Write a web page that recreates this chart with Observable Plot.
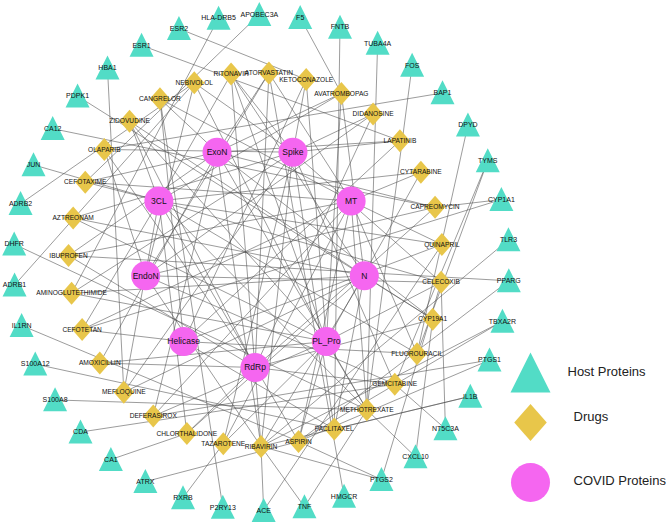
<!DOCTYPE html>
<html><head><meta charset="utf-8">
<script src="https://cdn.jsdelivr.net/npm/d3@7"></script>
<script src="https://cdn.jsdelivr.net/npm/@observablehq/plot@0.6"></script>
<style>html,body{margin:0;padding:0;background:#fff;} #chart svg{display:block;}</style>
</head><body><div id="chart"></div>
<script>
// ---- data ----
const hostProteins = ["APOBEC3A","F5","FNTB","TUBA4A","FOS","BAP1","DPYD","TYMS","CYP1A1","TLR3","PPARG","TBXA2R","PTGS1","IL1B","NT5C3A","CXCL10","PTGS2","HMGCR","TNF","ACE","P2RY13","RXRB","ATRX","CA1","CDA","S100A8","S100A12","IL1RN","ADRB1","DHFR","ADRB2","JUN","CA12","PDPK1","HBA1","ESR1","ESR2","HLA-DRB5"];
const drugs = ["RITONAVIR","ATORVASTATIN","KETOCONAZOLE","AVATROMBOPAG","DIDANOSINE","LAPATINIB","CYTARABINE","CAPREOMYCIN","QUINAPRIL","CELECOXIB","CYP19A1","FLUOROURACIL","GEMCITABINE","METHOTREXATE","PACLITAXEL","ASPIRIN","RIBAVIRIN","TAZAROTENE","CHLORTHALIDONE","DEFERASIROX","MEFLOQUINE","AMOXICILLIN","CEFOTETAN","AMINOGLUTETHIMIDE","IBUPROFEN","AZTREONAM","CEFOTAXIME","OLAPARIB","ZIDOVUDINE","CANGRELOR","NEBIVOLOL"];
const covidProteins = ["Spike","MT","N","PL_Pro","RdRp","Helicase","EndoN","3CL","ExoN"];
const hostDrugLinks = [
  ["HLA-DRB5","AMINOGLUTETHIMIDE"],["APOBEC3A","CEFOTAXIME"],["F5","AVATROMBOPAG"],["FNTB","PACLITAXEL"],
  ["TUBA4A","METHOTREXATE"],["FOS","METHOTREXATE"],["BAP1","OLAPARIB"],["DPYD","FLUOROURACIL"],
  ["TYMS","FLUOROURACIL"],["TYMS","GEMCITABINE"],["CYP1A1","CAPREOMYCIN"],["CYP1A1","CEFOTETAN"],
  ["TLR3","RIBAVIRIN"],["PPARG","ASPIRIN"],["PPARG","IBUPROFEN"],["TBXA2R","ASPIRIN"],["TBXA2R","RIBAVIRIN"],
  ["PTGS1","ASPIRIN"],["PTGS1","DEFERASIROX"],["IL1B","RIBAVIRIN"],["IL1B","PACLITAXEL"],
  ["NT5C3A","CELECOXIB"],["NT5C3A","GEMCITABINE"],["CXCL10","METHOTREXATE"],["CXCL10","CYP19A1"],
  ["PTGS2","ASPIRIN"],["PTGS2","CELECOXIB"],["PTGS2","RIBAVIRIN"],["HMGCR","ATORVASTATIN"],
  ["TNF","RIBAVIRIN"],["TNF","METHOTREXATE"],["ACE","RIBAVIRIN"],["ACE","QUINAPRIL"],
  ["P2RY13","CANGRELOR"],["RXRB","TAZAROTENE"],["ATRX","ASPIRIN"],["CA1","CHLORTHALIDONE"],
  ["CDA","GEMCITABINE"],["S100A8","METHOTREXATE"],["S100A12","PACLITAXEL"],["IL1RN","ASPIRIN"],
  ["ADRB1","NEBIVOLOL"],["DHFR","METHOTREXATE"],["ADRB2","NEBIVOLOL"],["JUN","CELECOXIB"],
  ["CA12","CAPREOMYCIN"],["PDPK1","CYP19A1"],["HBA1","MEFLOQUINE"],["ESR1","LAPATINIB"],["ESR2","KETOCONAZOLE"]
];
const drugCovidLinks = [
  ["RITONAVIR",["3CL","PL_Pro","Spike","RdRp","N"]],
  ["ATORVASTATIN",["ExoN","MT","RdRp","EndoN"]],
  ["KETOCONAZOLE",["Spike","Helicase","PL_Pro"]],
  ["AVATROMBOPAG",["ExoN","3CL","PL_Pro","N"]],
  ["DIDANOSINE",["Spike","RdRp","EndoN"]],
  ["LAPATINIB",["ExoN","Spike","Helicase"]],
  ["CYTARABINE",["3CL","MT","PL_Pro"]],
  ["CAPREOMYCIN",["ExoN","EndoN","RdRp"]],
  ["QUINAPRIL",["3CL","MT","Helicase"]],
  ["CELECOXIB",["Spike","EndoN","PL_Pro"]],
  ["CYP19A1",["ExoN","N","RdRp"]],
  ["FLUOROURACIL",["3CL","Helicase","MT"]],
  ["GEMCITABINE",["Spike","EndoN","RdRp"]],
  ["METHOTREXATE",["ExoN","3CL","MT","PL_Pro"]],
  ["PACLITAXEL",["Spike","Helicase","N"]],
  ["ASPIRIN",["3CL","MT","PL_Pro"]],
  ["RIBAVIRIN",["RdRp","ExoN","N","EndoN","Spike"]],
  ["TAZAROTENE",["Spike","PL_Pro","MT"]],
  ["CHLORTHALIDONE",["3CL","N","RdRp"]],
  ["DEFERASIROX",["ExoN","MT","PL_Pro"]],
  ["MEFLOQUINE",["Spike","3CL","N"]],
  ["AMOXICILLIN",["ExoN","PL_Pro","RdRp"]],
  ["CEFOTETAN",["3CL","MT","Helicase"]],
  ["AMINOGLUTETHIMIDE",["Spike","N","PL_Pro"]],
  ["IBUPROFEN",["ExoN","MT","RdRp"]],
  ["AZTREONAM",["Spike","N","PL_Pro"]],
  ["CEFOTAXIME",["ExoN","3CL","MT"]],
  ["OLAPARIB",["Spike","EndoN","RdRp"]],
  ["ZIDOVUDINE",["3CL","N","PL_Pro","RdRp"]],
  ["CANGRELOR",["ExoN","MT","Helicase"]],
  ["NEBIVOLOL",["Spike","EndoN","PL_Pro"]]
];
const legendLabels = ["Host Proteins","Drugs","COVID Proteins"];

// ---- layout (circular rings) ----
function ring(names, cx, cy, r, startDeg) {
  const step = 360 / names.length;
  return names.map((name, i) => {
    const t = (startDeg + i * step) * Math.PI / 180;
    return {name, x: cx + r * Math.sin(t), y: cy - r * Math.cos(t)};
  });
}
const hostNodes = ring(hostProteins, 261, 262, 248, -0.5);
const drugNodes = ring(drugs, 255, 259, 187, -7.5);
const covidNodes = ring(covidProteins, 254.5, 256, 111, 20);
const pos = new Map([...hostNodes, ...drugNodes, ...covidNodes].map(d => [d.name, d]));

const edges = [];
for (const [a, b] of hostDrugLinks) edges.push({a: pos.get(a), b: pos.get(b)});
for (const [d, targets] of drugCovidLinks) for (const t of targets) edges.push({a: pos.get(d), b: pos.get(t)});

const legend = legendLabels.map((label, i) => ({label, x: 530, y: [373, 422, 482][i], ty: [371, 416, 480][i], tx: [567, 573, 573][i]}));

// ---- custom symbols ----
const triangle = {draw(ctx, size) {
  const r = Math.sqrt(size / Math.PI);
  ctx.moveTo(0, -1.05 * r); ctx.lineTo(r, 0.95 * r); ctx.lineTo(-r, 0.95 * r); ctx.closePath();
}};
const diamond = {draw(ctx, size) {
  const r = Math.sqrt(size / Math.PI);
  ctx.moveTo(0, -r); ctx.lineTo(0.88 * r, 0); ctx.lineTo(0, r); ctx.lineTo(-0.88 * r, 0); ctx.closePath();
}};

const cHost = "#52dcc6", cDrug = "#e8c64a", cCovid = "#f566f0";

const chart = Plot.plot({
  width: 666, height: 524, margin: 0,
  style: {fontFamily: "'Liberation Sans', Arial, sans-serif", background: "#fff"},
  x: {domain: [0, 666], range: [0, 666], axis: null},
  y: {domain: [0, 524], range: [0, 524], axis: null},
  marks: [
    Plot.link(edges, {x1: d => d.a.x, y1: d => d.a.y, x2: d => d.b.x, y2: d => d.b.y, stroke: "#4a4a4a", strokeWidth: 0.65, strokeOpacity: 0.85}),
    Plot.dot(hostNodes, {x: "x", y: "y", symbol: triangle, r: 12, fill: cHost, stroke: null}),
    Plot.dot(drugNodes, {x: "x", y: "y", symbol: diamond, r: 11.5, fill: cDrug, stroke: null}),
    Plot.dot(covidNodes, {x: "x", y: "y", symbol: "circle", r: 14.5, fill: cCovid, stroke: null}),
    Plot.text(hostNodes, {x: "x", y: "y", text: "name", fontSize: 7, fill: "#111"}),
    Plot.text(drugNodes, {x: "x", y: "y", text: "name", fontSize: 6.6, fill: "#111"}),
    Plot.text(covidNodes, {x: "x", y: "y", text: "name", fontSize: 8.5, fill: "#111"}),
    Plot.dot(legend.slice(0, 1), {x: "x", y: "y", symbol: triangle, r: 20, fill: cHost}),
    Plot.dot(legend.slice(1, 2), {x: "x", y: "y", symbol: diamond, r: 18.5, fill: cDrug}),
    Plot.dot(legend.slice(2, 3), {x: "x", y: "y", symbol: "circle", r: 19.5, fill: cCovid}),
    Plot.text(legend, {x: "tx", y: "ty", text: "label", fontSize: 13, textAnchor: "start", fill: "#222"})
  ]
});
document.getElementById("chart").appendChild(chart);
</script>
</body></html>
